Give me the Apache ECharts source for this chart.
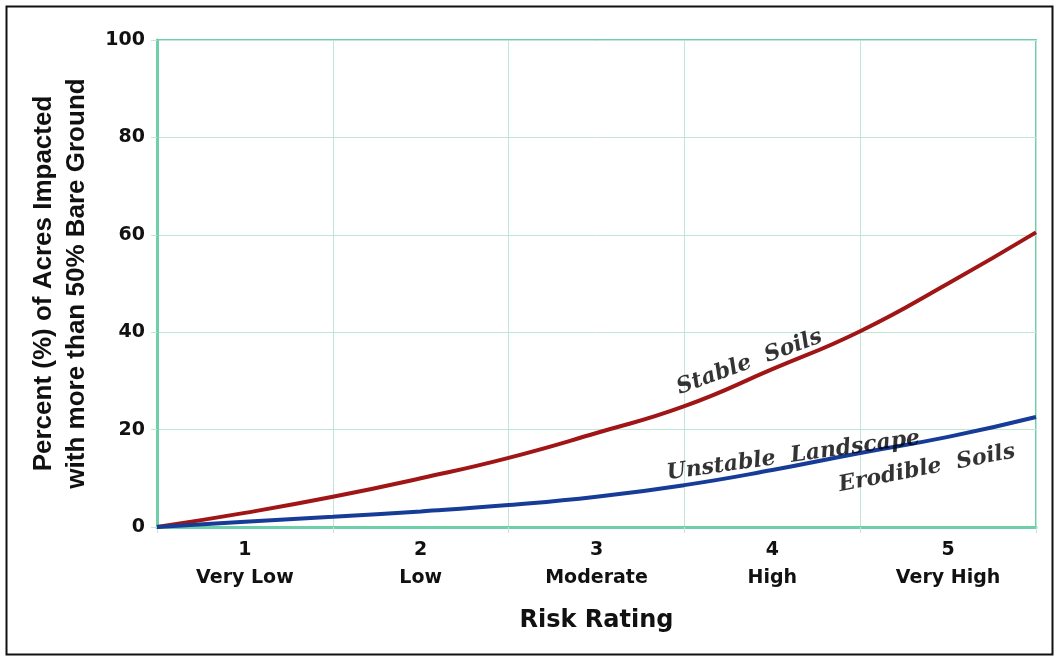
<!DOCTYPE html>
<html>
<head>
<meta charset="utf-8">
<script src="https://cdn.jsdelivr.net/npm/echarts@6/dist/echarts.min.js"></script>
<style>html,body{margin:0;padding:0;background:#fff;}#c{width:1054px;height:656px;}</style>
</head>
<body>
<div id="c"></div>
<script>
// Data
const ratingNumbers = ['1', '2', '3', '4', '5'];
const ratingNames = ['Very Low', 'Low', 'Moderate', 'High', 'Very High'];
const xPositions = [0.5, 1.0, 1.5, 2.0, 2.5, 3.0, 3.5, 4.0, 4.5, 5.0, 5.5];
const stableSoils = [0, 2.9, 6.2, 10.0, 14.2, 19.3, 24.8, 32.4, 40.2, 50.0, 60.5];
const unstableErodible = [0, 1.1, 2.1, 3.2, 4.5, 6.2, 8.6, 11.7, 15.2, 18.5, 22.6];
const yTicks = [0, 20, 40, 60, 80, 100];
const curveLabels = [
  { text: 'Stable  Soils', x: 3.87, y: 33.8, rotate: 20 },
  { text: 'Unstable  Landscape', x: 4.12, y: 14.6, rotate: 8 },
  { text: 'Erodible  Soils', x: 4.88, y: 12.0, rotate: 11 }
];

const gridGreen = '#bfe6d6';
const axisGreen = '#6fcfa8';
const wide = 'DejaVu Sans, Verdana, sans-serif';
const sans = 'Liberation Sans, Arial, sans-serif';
const serif = 'DejaVu Serif, Liberation Serif, serif';

const chart = echarts.init(document.getElementById('c'), null, { renderer: 'canvas' });
const option = {
  backgroundColor: '#ffffff',
  animation: false,
  grid: { left: 157, right: 18, top: 40, bottom: 129, show: true, borderColor: axisGreen, borderWidth: 2, backgroundColor: 'transparent' },
  graphic: [{
    type: 'rect', left: 4, top: 4, shape: { width: 1046, height: 648 },
    style: { fill: 'none', stroke: '#111', lineWidth: 2 }, silent: true, z: 100
  }],
  xAxis: [{
    type: 'category',
    data: ratingNumbers,
    boundaryGap: true,
    axisLine: { show: true, lineStyle: { color: axisGreen, width: 3 } },
    axisTick: { show: true, length: 6, lineStyle: { color: gridGreen, width: 1 } },
    splitLine: { show: true, lineStyle: { color: gridGreen, width: 1 } },
    axisLabel: {
      margin: 9,
      formatter: (v, i) => '{n|' + v + '}\n{t|' + ratingNames[i] + '}',
      rich: {
        n: { fontFamily: wide, fontWeight: 'bold', fontSize: 19, color: '#111', lineHeight: 28 },
        t: { fontFamily: wide, fontWeight: 'bold', fontSize: 19, color: '#111', lineHeight: 28 }
      }
    },
    name: 'Risk Rating',
    nameLocation: 'middle',
    nameGap: 82,
    nameTextStyle: { fontFamily: wide, fontWeight: 'bold', fontSize: 24, color: '#111' }
  }, {
    type: 'value', min: 0.5, max: 5.5, show: false
  }],
  yAxis: {
    type: 'value', min: 0, max: 100, interval: 20,
    axisLine: { show: true, lineStyle: { color: axisGreen, width: 3 } },
    axisTick: { show: true, length: 6, lineStyle: { color: gridGreen, width: 1 } },
    splitLine: { show: true, lineStyle: { color: gridGreen, width: 1 } },
    axisLabel: {
      margin: 12,
      fontFamily: wide, fontWeight: 'bold', fontSize: 19, color: '#111',
      formatter: v => yTicks.indexOf(v) >= 0 ? String(v) : ''
    },
    name: 'Percent (%) of Acres Impacted\nwith more than 50% Bare Ground',
    nameLocation: 'middle',
    nameGap: 64,
    nameTextStyle: { fontFamily: sans, fontWeight: 'bold', fontSize: 26, color: '#111', lineHeight: 33 }
  },
  series: [{
    name: 'Stable Soils', type: 'line', xAxisIndex: 1, smooth: true, showSymbol: false,
    data: xPositions.map((x, i) => [x, stableSoils[i]]),
    lineStyle: { color: '#a01515', width: 4 }, z: 5
  }, {
    name: 'Unstable Landscape / Erodible Soils', type: 'line', xAxisIndex: 1, smooth: true, showSymbol: false,
    data: xPositions.map((x, i) => [x, unstableErodible[i]]),
    lineStyle: { color: '#163c98', width: 4 }, z: 6
  }, {
    type: 'scatter', xAxisIndex: 1, symbolSize: 0, silent: true,
    data: curveLabels.map(l => ({ value: [l.x, l.y], name: l.text,
      label: { show: true, position: 'inside', formatter: l.text, rotate: l.rotate,
        fontFamily: serif, fontStyle: 'italic', fontWeight: 'bold', fontSize: 22, color: '#000',
        textBorderWidth: 0 } })),
    z: 10
  }]
};
chart.setOption(option);
</script>
</body>
</html>
